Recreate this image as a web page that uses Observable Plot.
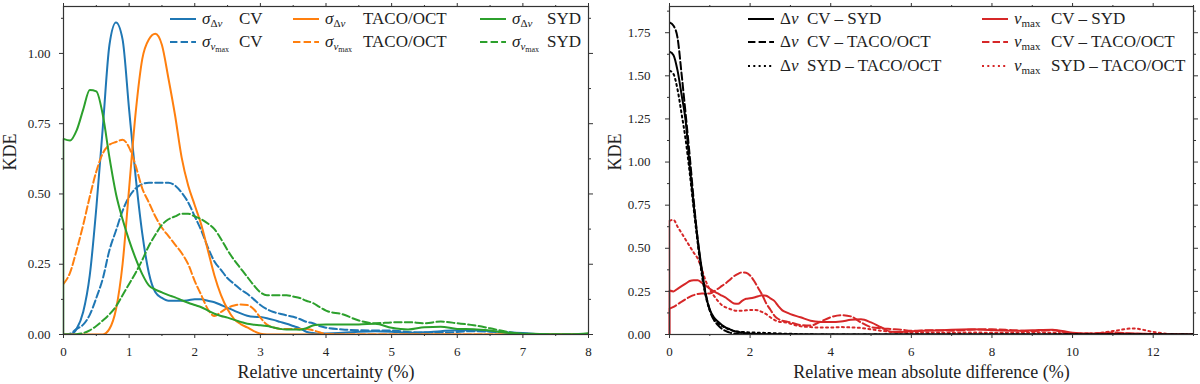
<!DOCTYPE html>
<html><head><meta charset="utf-8">
<script src="https://cdn.jsdelivr.net/npm/d3@7"></script>
<script src="https://cdn.jsdelivr.net/npm/@observablehq/plot@0.6"></script>
<style>
body{margin:0;background:#fff;font-family:"Liberation Serif","Times New Roman",serif;color:#222;}
#wrap{position:relative;width:1200px;height:384px;overflow:hidden;}
.panel{position:absolute;top:0;width:600px;height:384px;}
.item{position:absolute;display:flex;align-items:center;height:22px;font-size:17px;white-space:nowrap;}
.item svg{margin-right:6px;}
.sym{display:inline-block;}
sub{font-size:11px;vertical-align:-3px;line-height:0;}
</style></head>
<body><div id="wrap"><div id="p1" class="panel" style="left:0"></div><div id="p2" class="panel" style="left:600px"></div></div>
<script>
// ---------- Left panel data: relative uncertainty (%) ----------
const xL = [0,0.1,0.2,0.3,0.4,0.5,0.6,0.7,0.8,0.9,1.0,1.1,1.2,1.3,1.4,1.5,1.6,1.7,1.8,1.9,2.0,2.1,2.2,2.3,2.4,2.5,2.6,2.7,2.8,2.9,3.0,3.1,3.2,3.3,3.4,3.5,3.6,3.7,3.8,3.9,4.0,4.25,4.5,4.75,5.0,5.25,5.5,5.75,6.0,6.25,6.5,6.75,7.0,7.25,7.5,7.75,8.0];
const sigDnuCV = [0,0,0.02,0.08,0.21,0.45,0.74,1.03,1.11,1.05,0.80,0.56,0.36,0.22,0.15,0.13,0.12,0.12,0.12,0.122,0.125,0.125,0.12,0.115,0.105,0.095,0.085,0.075,0.067,0.063,0.062,0.058,0.052,0.045,0.038,0.03,0.022,0.01,0.005,0.003,0.004,0.006,0.01,0.012,0.01,0.006,0.008,0.012,0.015,0.015,0.012,0.008,0.005,0.001,0,0,0];
const sigNumaxCV = [0,0.003,0.02,0.035,0.07,0.13,0.2,0.3,0.37,0.44,0.49,0.52,0.535,0.54,0.54,0.54,0.54,0.53,0.505,0.47,0.42,0.37,0.31,0.26,0.23,0.2,0.18,0.16,0.145,0.125,0.105,0.09,0.08,0.074,0.068,0.063,0.055,0.045,0.04,0.03,0.024,0.018,0.015,0.014,0.014,0.009,0.007,0.007,0.009,0.012,0.01,0.007,0.004,0,0,0,0];
const sigDnuTACO = [0,0,0,0,0,0,0,0.02,0.09,0.25,0.52,0.79,0.98,1.05,1.07,1.03,0.91,0.78,0.63,0.53,0.46,0.39,0.3,0.21,0.14,0.09,0.055,0.037,0.025,0.012,0.003,0,0,0,0,0,0,0,0,0,0,0,0,0,0,0,0,0,0,0,0,0,0,0,0,0,0];
const sigNumaxTACO = [0.18,0.22,0.3,0.39,0.49,0.58,0.645,0.675,0.685,0.693,0.665,0.6,0.52,0.47,0.42,0.38,0.35,0.32,0.29,0.25,0.19,0.14,0.09,0.066,0.08,0.095,0.103,0.107,0.105,0.09,0.06,0.035,0.025,0.02,0.02,0.02,0.02,0.02,0.015,0.008,0.002,0,0,0,0,0,0,0,0,0,0,0,0,0,0,0,0];
const sigDnuSYD = [0.696,0.69,0.726,0.8,0.87,0.865,0.78,0.63,0.5,0.41,0.335,0.27,0.215,0.175,0.16,0.15,0.14,0.132,0.122,0.113,0.105,0.097,0.085,0.074,0.066,0.06,0.052,0.045,0.038,0.035,0.033,0.03,0.025,0.02,0.018,0.018,0.017,0.022,0.032,0.035,0.036,0.036,0.036,0.038,0.024,0.018,0.026,0.028,0.02,0.019,0.014,0.006,0.003,0.002,0.001,0.001,0.005];
const sigNumaxSYD = [0,0,0.001,0.005,0.015,0.03,0.05,0.072,0.1,0.14,0.18,0.22,0.265,0.315,0.355,0.39,0.41,0.42,0.43,0.43,0.42,0.41,0.395,0.375,0.34,0.3,0.265,0.235,0.205,0.175,0.15,0.14,0.14,0.14,0.14,0.135,0.13,0.12,0.112,0.098,0.085,0.072,0.05,0.04,0.043,0.044,0.04,0.046,0.04,0.033,0.022,0.01,0.002,0,0,0,0];
const xMajorL = [0,1,2,3,4,5,6,7,8];
const xMinorL = [0.5,1.5,2.5,3.5,4.5,5.5,6.5,7.5];
const yMajorL = [0,0.25,0.5,0.75,1.0];
const yMinorL = [0.125,0.375,0.625,0.875,1.125];

// ---------- Right panel data: relative mean absolute difference (%) ----------
const xR = [0,0.1,0.2,0.3,0.4,0.5,0.6,0.7,0.8,0.9,1.0,1.1,1.2,1.3,1.4,1.5,1.6,1.7,1.8,1.9,2.0,2.1,2.2,2.3,2.4,2.5,2.6,2.7,2.8,2.9,3.0,3.25,3.5,3.75,4.0,4.25,4.5,4.75,5.0,5.25,5.5,5.75,6.0,6.5,7.0,7.5,8.0,8.5,9.0,9.5,10.0,10.5,11.0,11.5,12.0,12.5,13.0];
const dnuCVSYD = [1.64,1.62,1.53,1.39,1.24,0.98,0.75,0.55,0.38,0.23,0.145,0.1,0.075,0.055,0.04,0.03,0.02,0.014,0.01,0.007,0.005,0.004,0.003,0.002,0.002,0.002,0.001,0.001,0.001,0.001,0.001,0,0,0,0,0,0,0,0,0,0,0,0,0,0,0,0,0,0,0,0,0,0,0,0,0,0];
const dnuCVTACO = [1.81,1.79,1.72,1.51,1.28,1.04,0.78,0.55,0.37,0.235,0.14,0.085,0.055,0.033,0.02,0.011,0.006,0.003,0.001,0,0,0,0,0,0,0,0,0,0,0,0,0,0,0,0,0,0,0,0,0,0,0,0,0,0,0,0,0,0,0,0,0,0,0,0,0,0];
const dnuSYDTACO = [1.53,1.51,1.42,1.28,1.13,0.94,0.73,0.53,0.35,0.22,0.14,0.09,0.065,0.05,0.037,0.027,0.02,0.017,0.015,0.013,0.012,0.011,0.01,0.01,0.009,0.008,0.007,0.006,0.005,0.005,0.004,0.002,0.001,0,0,0,0,0,0,0,0,0,0,0,0,0,0,0,0,0,0,0,0,0,0,0,0];
const numaxCVSYD = [0.255,0.25,0.265,0.28,0.295,0.31,0.315,0.315,0.3,0.283,0.265,0.25,0.238,0.225,0.213,0.195,0.18,0.178,0.195,0.207,0.21,0.215,0.222,0.228,0.225,0.21,0.195,0.165,0.14,0.128,0.118,0.1,0.08,0.073,0.072,0.075,0.085,0.088,0.07,0.042,0.016,0.015,0.019,0.023,0.028,0.03,0.025,0.022,0.025,0.028,0.01,0.004,0.005,0.006,0.003,0.001,0];
const numaxCVTACO = [0.15,0.16,0.175,0.19,0.205,0.218,0.228,0.235,0.238,0.237,0.238,0.25,0.265,0.282,0.298,0.318,0.338,0.352,0.36,0.358,0.342,0.31,0.27,0.23,0.18,0.145,0.11,0.09,0.08,0.075,0.07,0.055,0.052,0.075,0.1,0.112,0.105,0.07,0.043,0.036,0.032,0.028,0.022,0.025,0.022,0.028,0.03,0.025,0.02,0.025,0.004,0.006,0.012,0.005,0.002,0,0];
const numaxSYDTACO = [0.66,0.665,0.625,0.588,0.55,0.512,0.475,0.44,0.38,0.31,0.26,0.225,0.195,0.17,0.157,0.148,0.14,0.138,0.138,0.14,0.142,0.143,0.14,0.13,0.118,0.1,0.085,0.075,0.072,0.07,0.062,0.048,0.043,0.04,0.04,0.043,0.041,0.038,0.03,0.022,0.015,0.012,0.01,0.012,0.01,0.012,0.01,0.01,0.012,0.01,0.005,0.006,0.02,0.035,0.015,0.002,0];
const xMajorR = [0,2,4,6,8,10,12];
const xMinorR = [1,3,5,7,9,11,13];
const yMajorR = [0,0.25,0.5,0.75,1.0,1.25,1.5,1.75];
const yMinorR = [0.125,0.375,0.625,0.875,1.125,1.375,1.625,1.875];

// ---------- styling ----------
const C = {blue:"#1f77b4", orange:"#ff7f0e", green:"#2ca02c", red:"#d62728", black:"#000"};
const DASH = {solid:null, dashed:"7.4,3.2", dotted:"2,3.3"};
const FONT = '"Liberation Serif","Times New Roman",serif';
const AX = "#333";

const rows = (xs, ys) => xs.map((x, i) => ({x, y: ys[i]}));

const seriesL = [
  {ys: sigDnuCV, color: C.blue, dash: "solid"},
  {ys: sigNumaxCV, color: C.blue, dash: "dashed"},
  {ys: sigDnuTACO, color: C.orange, dash: "solid"},
  {ys: sigNumaxTACO, color: C.orange, dash: "dashed"},
  {ys: sigDnuSYD, color: C.green, dash: "solid", edge: true},
  {ys: sigNumaxSYD, color: C.green, dash: "dashed"}
];
const seriesR = [
  {ys: numaxCVSYD, color: C.red, dash: "solid", edge: true},
  {ys: numaxCVTACO, color: C.red, dash: "dashed", edge: true},
  {ys: numaxSYDTACO, color: C.red, dash: "dotted", edge: true},
  {ys: dnuCVSYD, color: C.black, dash: "solid"},
  {ys: dnuCVTACO, color: C.black, dash: "dashed"},
  {ys: dnuSYDTACO, color: C.black, dash: "dotted"}
];

function lineMarks(xs, series) {
  const out = [];
  for (const s of series) {
    const data = rows(xs, s.ys);
    out.push(Plot.line(data, {x: "x", y: "y", stroke: s.color, strokeWidth: 2,
      strokeDasharray: DASH[s.dash], curve: "monotone-x", clip: true}));
    if (s.edge) out.push(Plot.ruleX([data[0]], {x: "x", y1: 0, y2: "y", stroke: s.color, strokeWidth: 1.5}));
  }
  return out;
}

function axes(xMaj, xMin, yMaj, yMin, yPad) {
  const blank = () => "";
  return [
    Plot.axisX({ticks: xMaj, tickSize: 4, tickPadding: 8, tickFormat: d => String(d), label: null, stroke: AX}),
    Plot.axisX({ticks: xMin, tickSize: 2, tickFormat: blank, label: null, stroke: AX}),
    Plot.axisX({anchor: "top", ticks: xMaj, tickSize: 4, tickFormat: blank, label: null, stroke: AX}),
    Plot.axisX({anchor: "top", ticks: xMin, tickSize: 2, tickFormat: blank, label: null, stroke: AX}),
    Plot.axisY({ticks: yMaj, tickSize: 4, tickPadding: yPad, tickFormat: d3.format(".2f"), label: null, stroke: AX}),
    Plot.axisY({ticks: yMin, tickSize: 2, tickFormat: blank, label: null, stroke: AX}),
    Plot.axisY({anchor: "right", ticks: yMaj, tickSize: 4, tickFormat: blank, label: null, stroke: AX}),
    Plot.axisY({anchor: "right", ticks: yMin, tickSize: 2, tickFormat: blank, label: null, stroke: AX})
  ];
}

const left = Plot.plot({
  width: 600, height: 384, marginLeft: 63, marginRight: 12, marginTop: 6, marginBottom: 50,
  x: {domain: [0, 8]}, y: {domain: [0, 1.167]},
  style: {fontFamily: FONT, fontSize: "13px", color: "#222", background: "white", overflow: "visible"},
  marks: [
    ...lineMarks(xL, seriesL),
    Plot.frame({stroke: AX, strokeWidth: 1.2}),
    ...axes(xMajorL, xMinorL, yMajorL, yMinorL, 9),
    Plot.text(["Relative uncertainty (%)"], {text: d => d, frameAnchor: "bottom", dy: 43, fontSize: 18, fill: "#222"}),
    Plot.text(["KDE"], {text: d => d, frameAnchor: "left", dx: -53, rotate: -90, fontSize: 18, fill: "#222"})
  ]
});
const right = Plot.plot({
  width: 600, height: 384, marginLeft: 69, marginRight: 7, marginTop: 6, marginBottom: 50,
  x: {domain: [0, 13]}, y: {domain: [0, 1.902]},
  style: {fontFamily: FONT, fontSize: "13px", color: "#222", background: "white", overflow: "visible"},
  marks: [
    ...lineMarks(xR, seriesR),
    Plot.frame({stroke: AX, strokeWidth: 1.2}),
    ...axes(xMajorR, xMinorR, yMajorR, yMinorR, 15),
    Plot.text(["Relative mean absolute difference (%)"], {text: d => d, frameAnchor: "bottom", dy: 43, fontSize: 18, fill: "#222"}),
    Plot.text(["KDE"], {text: d => d, frameAnchor: "left", dx: -54, rotate: -90, fontSize: 18, fill: "#222"})
  ]
});
document.getElementById("p1").append(left);
document.getElementById("p2").append(right);

// ---------- legends ----------
const sDnu = '<i>σ</i><sub>Δ<i>ν</i></sub>';
const sNumax = '<i>σ</i><sub><i>ν</i><sub style="font-size:8px;vertical-align:-2px">max</sub></sub>';
const Dnu = 'Δ<i>ν</i>';
const Numax = '<i>ν</i><sub>max</sub>';
const legendL = [
  {sym: sDnu, text: "CV", color: C.blue, dash: "solid", col: 0, row: 0},
  {sym: sNumax, text: "CV", color: C.blue, dash: "dashed", col: 0, row: 1},
  {sym: sDnu, text: "TACO/OCT", color: C.orange, dash: "solid", col: 1, row: 0},
  {sym: sNumax, text: "TACO/OCT", color: C.orange, dash: "dashed", col: 1, row: 1},
  {sym: sDnu, text: "SYD", color: C.green, dash: "solid", col: 2, row: 0},
  {sym: sNumax, text: "SYD", color: C.green, dash: "dashed", col: 2, row: 1}
];
const legendR = [
  {sym: Dnu, text: "CV – SYD", color: C.black, dash: "solid", col: 0, row: 0},
  {sym: Dnu, text: "CV – TACO/OCT", color: C.black, dash: "dashed", col: 0, row: 1},
  {sym: Dnu, text: "SYD – TACO/OCT", color: C.black, dash: "dotted", col: 0, row: 2},
  {sym: Numax, text: "CV – SYD", color: C.red, dash: "solid", col: 1, row: 0},
  {sym: Numax, text: "CV – TACO/OCT", color: C.red, dash: "dashed", col: 1, row: 1},
  {sym: Numax, text: "SYD – TACO/OCT", color: C.red, dash: "dotted", col: 1, row: 2}
];
function buildLegend(items, colX, symW, rowY) {
  const wrap = document.getElementById("wrap");
  for (const it of items) {
    const d = document.createElement("div");
    d.className = "item";
    d.style.left = colX[it.col] + "px";
    d.style.top = (rowY[it.row] - 11) + "px";
    const da = DASH[it.dash] ? `stroke-dasharray="${DASH[it.dash]}"` : "";
    d.innerHTML = `<svg width="26" height="4"><line x1="0" y1="2" x2="26" y2="2" stroke="${it.color}" stroke-width="2" ${da}/></svg>` +
      `<span class="sym" style="width:${symW[it.col]}px">${it.sym}</span><span>${it.text}</span>`;
    wrap.append(d);
  }
}
buildLegend(legendL, [170, 293, 480], [37, 38, 35], [19, 42]);
buildLegend(legendR, [748, 982], [27, 37], [19, 42, 66]);
</script>
</body></html>
